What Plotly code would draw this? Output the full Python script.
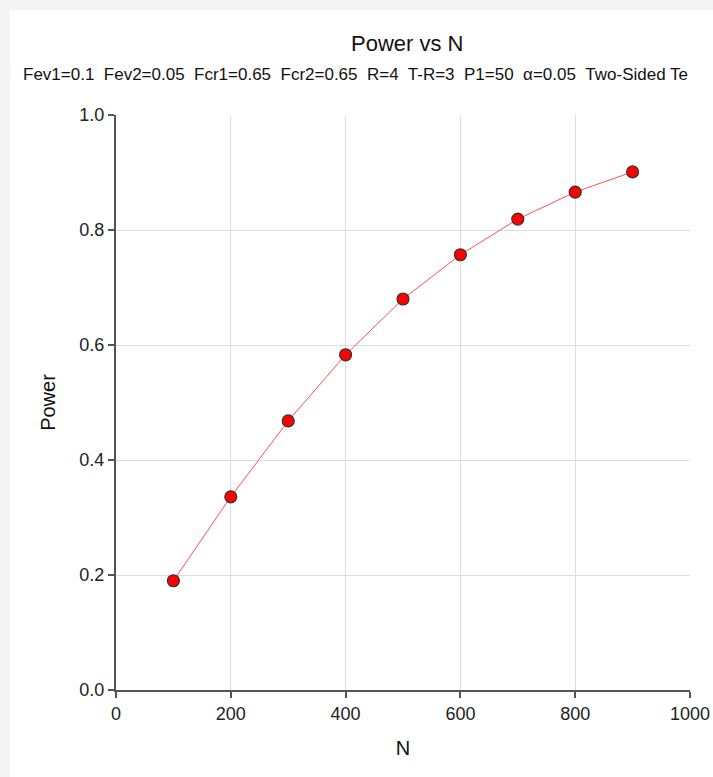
import plotly.graph_objects as go

# Sample sizes and the corresponding power values
n_values = [100, 200, 300, 400, 500, 600, 700, 800, 900]
power_values = [0.190, 0.336, 0.468, 0.583, 0.680, 0.757, 0.819, 0.866, 0.901]

title_text = "Power vs N"
subtitle_text = ("Fev1=0.1  Fev2=0.05  Fcr1=0.65  Fcr2=0.65  R=4  T-R=3  "
                 "P1=50  α=0.05  Two-Sided Te")

FONT = "Liberation Sans, Arial, sans-serif"

fig = go.Figure()
fig.add_trace(go.Scatter(
    x=n_values,
    y=power_values,
    mode="lines+markers",
    line=dict(color="#ff5050", width=1),
    marker=dict(size=12, color="#ff0000", line=dict(color="#333333", width=1.2)),
    showlegend=False,
    cliponaxis=False,
))

# Plot area spans x 116..690, y 115..690 in a 713x777 page
L, R, T, B = 116, 690, 115, 690
W, H = 713, 777
pw, ph = R - L, B - T

fig.update_layout(
    width=W,
    height=H,
    margin=dict(l=L, r=W - R, t=T, b=H - B, autoexpand=False),
    paper_bgcolor="#f4f4f4",
    plot_bgcolor="#ffffff",
    font=dict(family=FONT, color="#222222"),
    shapes=[dict(
        type="rect", xref="paper", yref="paper", layer="below",
        x0=(10 - L) / pw, x1=(W + 5 - L) / pw,
        y0=(B - (H + 5)) / ph, y1=(B - 10) / ph,
        fillcolor="#ffffff", line=dict(width=0),
    )],
    annotations=[
        dict(text=title_text, xref="paper", yref="paper",
             x=(407 - L) / pw, y=(B - 43) / ph, xanchor="center", yanchor="middle",
             showarrow=False, font=dict(size=22, color="#111111")),
        dict(text=subtitle_text, xref="paper", yref="paper",
             x=(21 - L) / pw, y=(B - 75) / ph, xanchor="left", yanchor="middle",
             showarrow=False, font=dict(size=17, color="#111111")),
    ],
)

fig.update_xaxes(
    range=[0, 1000],
    tickvals=[0, 200, 400, 600, 800, 1000],
    showgrid=True, gridcolor="#dddddd", gridwidth=1,
    showline=True, linecolor="#555555", linewidth=2,
    ticks="outside", ticklen=6, tickcolor="#555555", tickwidth=1.5,
    tickfont=dict(size=18, color="#222222"),
    title=dict(text="N", font=dict(size=20, color="#111111"), standoff=18),
    zeroline=False,
)
fig.update_yaxes(
    range=[0, 1],
    tickvals=[0, 0.2, 0.4, 0.6, 0.8, 1.0],
    tickformat=".1f",
    showgrid=True, gridcolor="#dddddd", gridwidth=1,
    showline=True, linecolor="#555555", linewidth=2,
    ticks="outside", ticklen=6, tickcolor="#555555", tickwidth=1.5,
    tickfont=dict(size=18, color="#222222"),
    title=dict(text="Power", font=dict(size=20, color="#111111"), standoff=18),
    zeroline=False,
)

fig.write_html("out.html")
